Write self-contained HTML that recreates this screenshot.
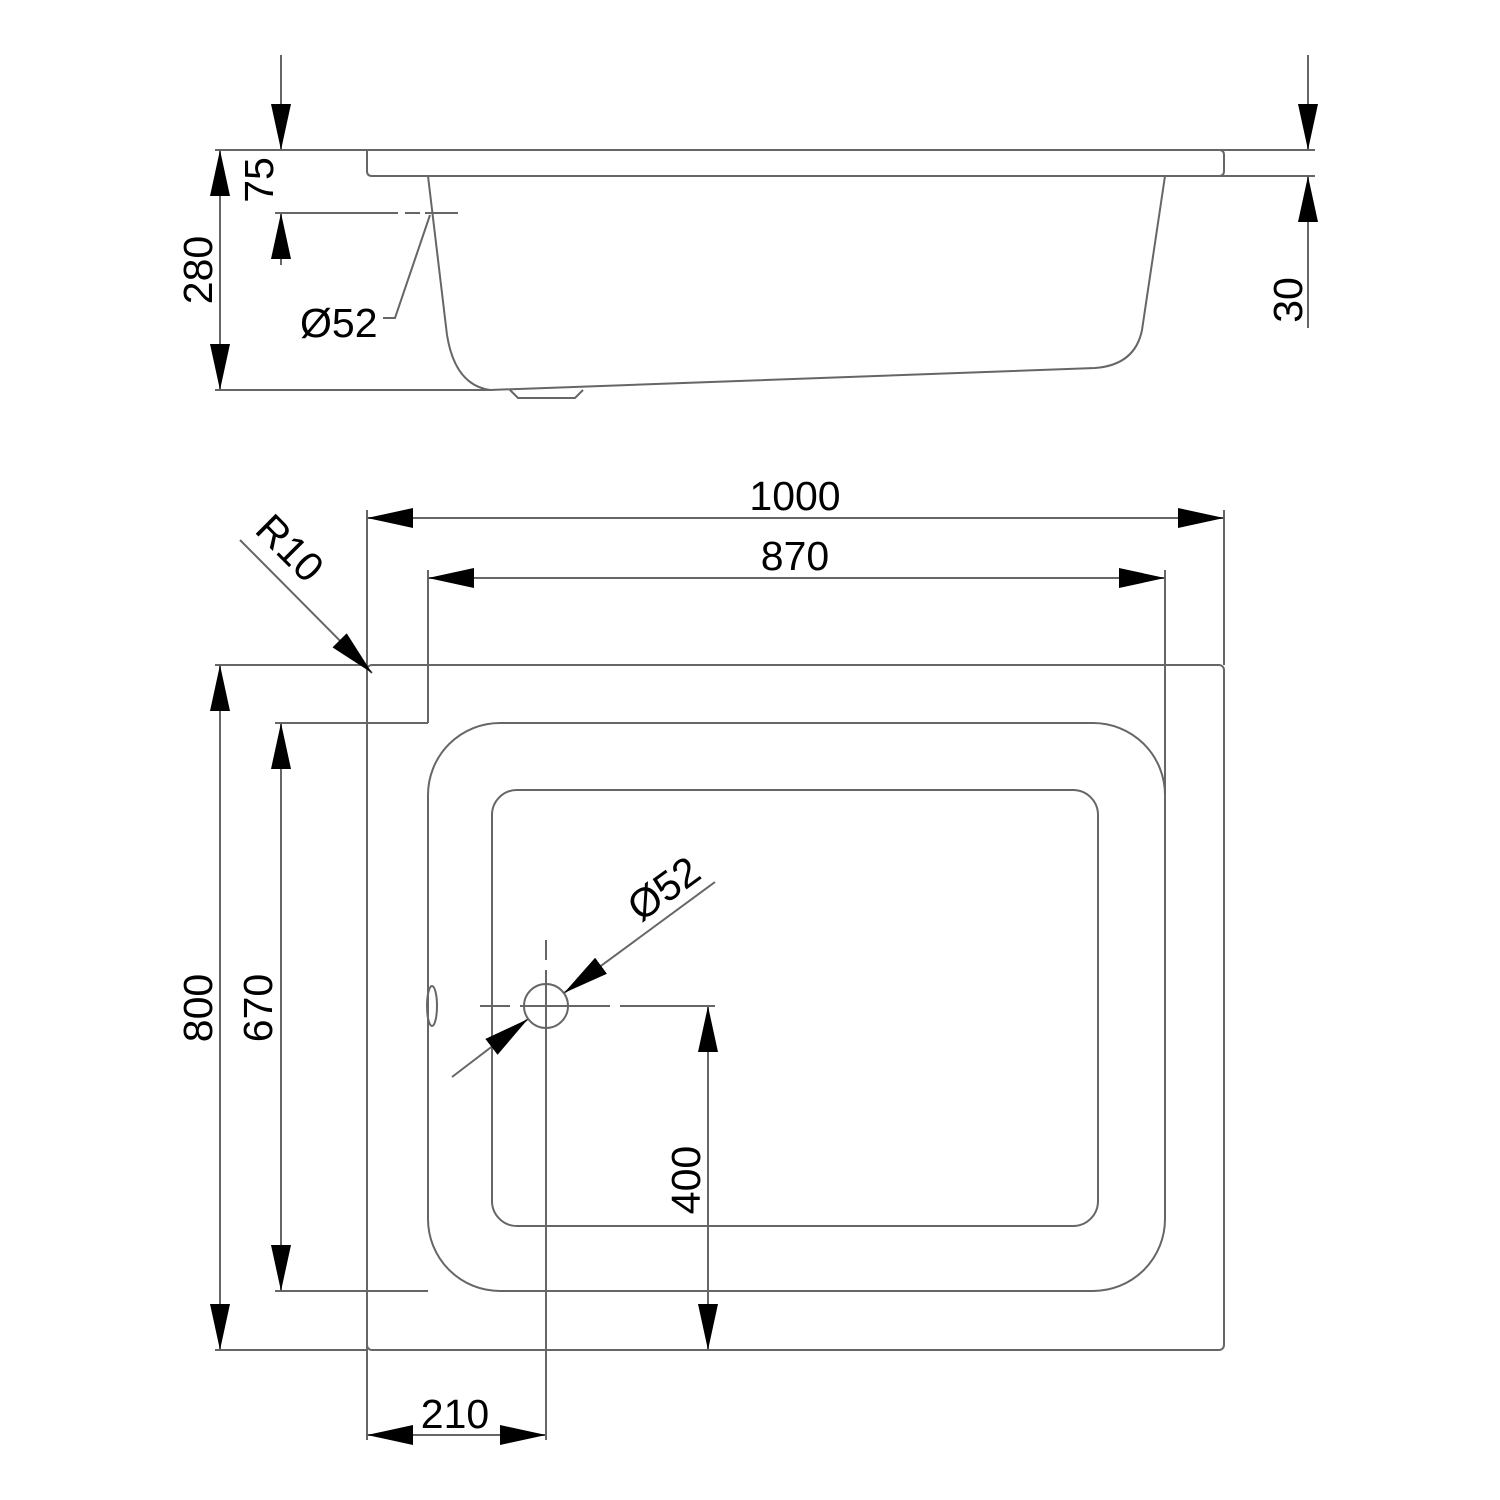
<!DOCTYPE html>
<html><head><meta charset="utf-8"><style>
html,body{margin:0;padding:0;background:#fff}
svg{display:block}
text{font-family:"Liberation Sans",sans-serif;font-size:41px;fill:#000}
</style></head><body>
<svg width="1500" height="1500" viewBox="0 0 1500 1500" xmlns="http://www.w3.org/2000/svg">
<defs>
<marker id="a" viewBox="0 0 46 20" refX="46" refY="10" markerWidth="46" markerHeight="20" markerUnits="userSpaceOnUse" orient="auto"><path d="M0,0 L46,10 L0,20 Z" fill="#000"/></marker>
</defs>
<g fill="none" stroke="#666" stroke-width="2">
<line x1="215" y1="150" x2="1315" y2="150"/>
<line x1="372" y1="176" x2="1315" y2="176"/>
<path d="M372,176 Q367,176 367,171 L367,150"/>
<path d="M1219,150 Q1224,150 1224,155 L1224,171 Q1224,176 1219,176"/>
<path d="M428,176 L447,335 Q455,385 490,390 L1095,368 Q1135,365 1142,330 L1165,176"/>
<line x1="215" y1="390" x2="490" y2="390"/>
<path d="M510,390 L518,398 L575,398 L583,390"/>
<line x1="281" y1="55" x2="281" y2="150" marker-end="url(#a)"/>
<line x1="281" y1="265" x2="281" y2="213" marker-end="url(#a)"/>
<line x1="275" y1="213" x2="398" y2="213"/>
<line x1="405" y1="213" x2="420" y2="213"/>
<line x1="425" y1="213" x2="458" y2="213"/>
<path d="M430,215 L395,318 L383,318"/>
<line x1="220" y1="270" x2="220" y2="150" marker-end="url(#a)"/>
<line x1="220" y1="270" x2="220" y2="390" marker-end="url(#a)"/>
<line x1="1308" y1="55" x2="1308" y2="150" marker-end="url(#a)"/>
<line x1="1308" y1="328" x2="1308" y2="176" marker-end="url(#a)"/>
<rect x="367" y="665" width="857" height="685" rx="5"/>
<rect x="428" y="723" width="737" height="568" rx="72"/>
<rect x="492" y="790" width="606" height="436" rx="25"/>
<line x1="367" y1="510" x2="367" y2="1440"/>
<line x1="428" y1="570" x2="428" y2="723"/>
<line x1="1165" y1="570" x2="1165" y2="800"/>
<line x1="1224" y1="510" x2="1224" y2="665"/>
<line x1="795" y1="518" x2="367" y2="518" marker-end="url(#a)"/>
<line x1="795" y1="518" x2="1224" y2="518" marker-end="url(#a)"/>
<line x1="795" y1="578" x2="428" y2="578" marker-end="url(#a)"/>
<line x1="795" y1="578" x2="1165" y2="578" marker-end="url(#a)"/>
<line x1="215" y1="665" x2="367" y2="665"/>
<line x1="215" y1="1350" x2="367" y2="1350"/>
<line x1="220" y1="1000" x2="220" y2="665" marker-end="url(#a)"/>
<line x1="220" y1="1000" x2="220" y2="1350" marker-end="url(#a)"/>
<line x1="275" y1="723" x2="428" y2="723"/>
<line x1="275" y1="1291" x2="428" y2="1291"/>
<line x1="281" y1="1000" x2="281" y2="723" marker-end="url(#a)"/>
<line x1="281" y1="1000" x2="281" y2="1291" marker-end="url(#a)"/>
<line x1="708" y1="1180" x2="708" y2="1006" marker-end="url(#a)"/>
<line x1="708" y1="1180" x2="708" y2="1350" marker-end="url(#a)"/>
<line x1="457" y1="1435" x2="367" y2="1435" marker-end="url(#a)"/>
<line x1="457" y1="1435" x2="546" y2="1435" marker-end="url(#a)"/>
<circle cx="546" cy="1006" r="22"/>
<ellipse cx="432" cy="1006" rx="5" ry="20"/>
<path d="M546,940 V960 M546,970 V1440"/>
<path d="M480,1006 H510 M520,1006 H610 M620,1006 H715"/>
<line x1="240" y1="540" x2="372" y2="673" marker-end="url(#a)"/>
<line x1="715" y1="882" x2="564" y2="993" marker-end="url(#a)"/>
<line x1="452" y1="1077" x2="528" y2="1019" marker-end="url(#a)"/>
</g>
<text x="795" y="510" text-anchor="middle">1000</text>
<text x="795" y="570" text-anchor="middle">870</text>
<text x="455" y="1428" text-anchor="middle">210</text>
<text x="300" y="337">Ø52</text>
<text transform="translate(273,180) rotate(-90)" text-anchor="middle">75</text>
<text transform="translate(212,270) rotate(-90)" text-anchor="middle">280</text>
<text transform="translate(1302,300) rotate(-90)" text-anchor="middle">30</text>
<text transform="translate(212,1008) rotate(-90)" text-anchor="middle">800</text>
<text transform="translate(272,1008) rotate(-90)" text-anchor="middle">670</text>
<text transform="translate(700,1180) rotate(-90)" text-anchor="middle">400</text>
<text transform="translate(280,558) rotate(45)" text-anchor="middle">R10</text>
<text transform="translate(672,900) rotate(-36)" text-anchor="middle">Ø52</text>
</svg>
</body></html>
